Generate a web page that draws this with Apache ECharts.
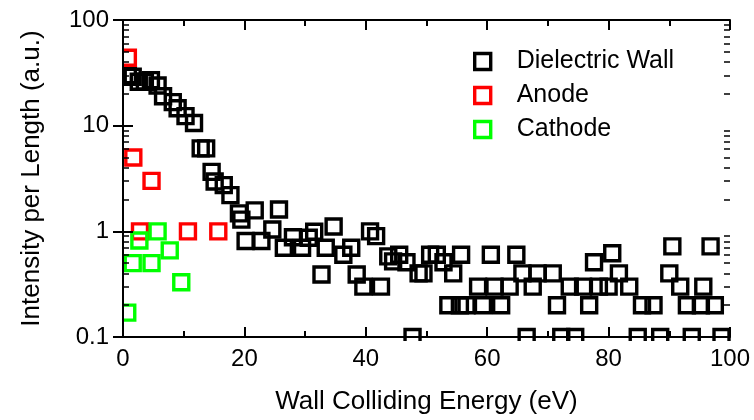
<!DOCTYPE html>
<html>
<head>
<meta charset="utf-8">
<script src="https://cdn.jsdelivr.net/npm/echarts@6/dist/echarts.min.js"></script>
<style>
  html, body { margin: 0; padding: 0; background: #fff; }
  #chart { width: 754px; height: 420px; }
</style>
</head>
<body>
<div id="chart"></div>
<script>
// energy (eV) and intensity per length (a.u.)
const dielectricX = [0.8, 1.6, 2.6, 3.6, 4.6, 5.7, 6.6, 8.2, 9.0, 10.3, 11.7, 12.8, 13.7, 14.6, 15.1, 16.6, 17.7, 19.1, 19.5,
    20.2, 21.7, 22.8, 24.6, 25.7, 26.5, 28.0, 29.5, 30.6, 31.5, 32.7, 33.4, 34.7, 36.3, 37.6, 38.5, 39.6,
    40.7, 41.7, 42.5, 43.7, 44.5, 45.5, 46.7, 47.7, 48.7, 49.5, 50.6, 51.7, 52.8, 53.6, 54.4, 55.5, 55.7, 56.6,
    58.5, 59.3, 60.6, 61.2, 62.3, 63.7, 64.8, 65.8, 66.5, 67.5, 68.3, 70.8, 71.5, 72.2, 73.6, 74.5, 75.8,
    76.8, 77.6, 78.4, 80.0, 80.6, 81.7, 83.4, 84.8, 85.5, 87.4, 88.5, 90.0, 90.5, 91.8, 92.9, 93.7, 95.2,
    95.6, 96.8, 97.5, 98.6];
const dielectricY = [30, 29, 26, 26, 27, 24, 19, 16.7, 14.6, 12.3, 10.6, 6.1, 6.1, 3.65, 2.96, 2.74, 2.2, 1.48, 1.29,
    0.81, 1.58, 0.81, 1.04, 1.61, 0.7, 0.88, 0.7, 0.87, 0.99, 0.39, 0.7, 1.11, 0.6, 0.7, 0.39, 0.3,
    1.0, 0.9, 0.3, 0.58, 0.52, 0.6, 0.51, 0.1, 0.4, 0.4, 0.6, 0.6, 0.51, 0.2, 0.4, 0.2, 0.6, 0.2,
    0.3, 0.2, 0.6, 0.3, 0.2, 0.3, 0.6, 0.4, 0.1, 0.3, 0.4, 0.4, 0.2, 0.1, 0.3, 0.1, 0.3,
    0.2, 0.51, 0.3, 0.3, 0.62, 0.4, 0.3, 0.1, 0.2, 0.2, 0.1, 0.4, 0.72, 0.3, 0.2, 0.1, 0.2,
    0.3, 0.72, 0.2, 0.1];
const anodeX = [0.8, 1.7, 2.8, 4.7, 10.7, 15.7];
const anodeY = [44, 5, 1, 3, 1, 1];
const cathodeX = [0.7, 1.6, 2.7, 4.7, 5.7, 7.7, 9.6];
const cathodeY = [0.17, 0.5, 0.82, 0.5, 1.0, 0.66, 0.33];

const logMinorTicks = [0.2, 0.3, 0.4, 0.5, 0.6, 0.7, 0.8, 0.9, 2, 3, 4, 5, 6, 7, 8, 9, 20, 30, 40, 50, 60, 70, 80, 90];

const FONT = '"Liberation Sans", Arial, sans-serif';
const zip = (xs, ys) => xs.map((x, i) => [x, ys[i]]);

const W = 754, H = 420;
const G = { left: 123, right: 24, top: 20, bottom: 80 };

const chart = echarts.init(document.getElementById('chart'));

function squareSeries(name, color, data) {
    return {
        name: name,
        type: 'scatter',
        symbol: 'rect',
        symbolSize: 15,
        z: 2,
        itemStyle: { color: 'rgba(0,0,0,0)', borderColor: color, borderWidth: 3.4, opacity: 1 },
        emphasis: { disabled: true },
        data: data
    };
}

const xBase = {
    type: 'value', min: 0, max: 100, interval: 20, z: 10,
    axisLine: { lineStyle: { color: '#000', width: 2 } },
    axisTick: { inside: true, length: 10, lineStyle: { color: '#000', width: 2 } },
    minorTick: { show: true, splitNumber: 2, length: 6, lineStyle: { color: '#000', width: 2 } },
    splitLine: { show: false }
};
const yBase = {
    type: 'log', logBase: 10, min: 0.1, max: 100, z: 10,
    axisLine: { show: true, lineStyle: { color: '#000', width: 2 } },
    axisTick: { show: true, inside: true, length: 10, lineStyle: { color: '#000', width: 2 } },
    splitLine: { show: false }
};
const yMinor = {
    type: 'log', logBase: 10, min: 0.1, max: 100, z: 10,
    axisLine: { show: false },
    axisLabel: { show: false },
    axisTick: { show: true, inside: true, length: 6, customValues: logMinorTicks, lineStyle: { color: '#000', width: 1.5 } },
    splitLine: { show: false }
};

// white masks so the squares sitting on the frame are cut at the axes
const white = { fill: '#fff' };
const masks = [
    { type: 'rect', z: 5, silent: true, shape: { x: 0, y: H - G.bottom + 1, width: W, height: G.bottom }, style: white },
    { type: 'rect', z: 5, silent: true, shape: { x: 0, y: 0, width: G.left - 1, height: H }, style: white },
    { type: 'rect', z: 5, silent: true, shape: { x: W - G.right + 1, y: 0, width: G.right, height: H }, style: white },
    { type: 'rect', z: 5, silent: true, shape: { x: 0, y: 0, width: W, height: G.top - 1 }, style: white }
];

chart.setOption({
    animation: false,
    textStyle: { fontFamily: FONT },
    grid: G,
    graphic: masks,
    legend: {
        orient: 'vertical',
        left: 468, top: 44,
        itemWidth: 16, itemHeight: 16,
        itemGap: 9,
        itemStyle: { borderWidth: 3.4 },
        textStyle: { fontFamily: FONT, fontSize: 25, color: '#000', padding: [0, 0, 0, 21] },
        data: ['Dielectric Wall', 'Anode', 'Cathode']
    },
    xAxis: [
        Object.assign({}, xBase, {
            position: 'bottom',
            name: 'Wall Colliding Energy (eV)',
            nameLocation: 'middle',
            nameGap: 52,
            nameTextStyle: { fontFamily: FONT, fontSize: 26, color: '#000' },
            axisLabel: { fontFamily: FONT, fontSize: 24, color: '#000', margin: 10 }
        }),
        Object.assign({}, xBase, { position: 'top', axisLabel: { show: false } })
    ],
    yAxis: [
        Object.assign({}, yBase, {
            position: 'left',
            name: 'Intensity per Length (a.u.)',
            nameLocation: 'middle',
            nameGap: 78,
            nameTextStyle: { fontFamily: FONT, fontSize: 26, color: '#000' },
            axisLabel: { fontFamily: FONT, fontSize: 24, color: '#000', margin: 14 }
        }),
        Object.assign({}, yBase, { position: 'right', axisLabel: { show: false } }),
        Object.assign({}, yMinor, { position: 'left' }),
        Object.assign({}, yMinor, { position: 'right' })
    ],
    series: [
        squareSeries('Dielectric Wall', '#000000', zip(dielectricX, dielectricY)),
        squareSeries('Anode', '#ff0000', zip(anodeX, anodeY)),
        squareSeries('Cathode', '#00ff00', zip(cathodeX, cathodeY))
    ]
});
</script>
</body>
</html>
